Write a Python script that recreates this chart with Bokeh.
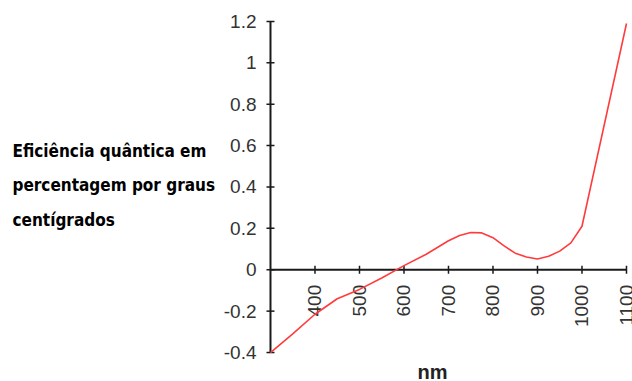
import numpy as np
from bokeh.plotting import figure
from bokeh.models import Range1d, Label
from bokeh.core.properties import value
from bokeh.embed import file_html
from bokeh.resources import INLINE

# data
wavelength_nm = [300, 350, 400, 450, 500, 550, 600, 650, 700, 725, 750, 775, 800, 825,
                 850, 875, 900, 925, 950, 975, 1000, 1100]
efficiency = [-0.40, -0.31, -0.215, -0.14, -0.095, -0.04, 0.02, 0.075, 0.14, 0.165, 0.18,
              0.178, 0.155, 0.115, 0.08, 0.062, 0.052, 0.065, 0.09, 0.13, 0.21, 1.19]

x_origin = 300
x_ticks = [400, 500, 600, 700, 800, 900, 1000, 1100]
x_tick_labels = ["400", "500", "600", "700", "800", "900", "1000", "1100"]
y_ticks = [-0.4, -0.2, 0, 0.2, 0.4, 0.6, 0.8, 1, 1.2]
y_tick_labels = ["-0.4", "-0.2", "0", "0.2", "0.4", "0.6", "0.8", "1", "1.2"]

y_title_lines = ["Eficiência quântica em", "percentagem por graus", "centígrados"]
x_title = "nm"

AXIS = "#1a1a1a"
TXT = "#333333"
FONT = "Liberation Sans"

# the frame fills the whole canvas; axes are drawn by hand so that nothing is clipped
p = figure(width=632, height=381, output_backend="svg", toolbar_location=None,
           x_range=Range1d(-306.7, 1113.5), y_range=Range1d(-0.540, 1.301),
           x_axis_location=None, y_axis_location=None,
           min_border=0, min_border_left=0, min_border_right=0,
           min_border_top=0, min_border_bottom=0)
p.grid.visible = False
p.outline_line_color = None
p.background_fill_color = "white"
p.border_fill_color = "white"

# vertical axis
p.segment(x0=[x_origin], y0=[min(y_ticks)], x1=[x_origin], y1=[max(y_ticks)],
          line_color=AXIS, line_width=2)
p.scatter(x=[x_origin] * len(y_ticks), y=y_ticks, marker="dash", size=8,
          line_color=AXIS, line_width=1.5)
p.text(x=[x_origin] * len(y_ticks), y=y_ticks, text=y_tick_labels,
       text_align="right", text_baseline="middle", x_offset=-14,
       text_font=value(FONT), text_font_size="19px", text_color=TXT)

# horizontal axis crossing at zero
p.segment(x0=[x_origin], y0=[0], x1=[max(x_ticks)], y1=[0],
          line_color=AXIS, line_width=2)
p.scatter(x=x_ticks, y=[0] * len(x_ticks), marker="dash", angle=np.pi / 2, size=8,
          line_color=AXIS, line_width=1.5)
p.text(x=x_ticks, y=[0] * len(x_ticks), text=x_tick_labels, angle=np.pi / 2,
       text_align="right", text_baseline="middle", y_offset=15,
       text_font=value(FONT), text_font_size="19px", text_color=TXT)

p.line(wavelength_nm, efficiency, line_color="#ff3c3c", line_width=1.6)

for i, line in enumerate(y_title_lines):
    p.add_layout(Label(x=12, y=231 - i * 34.5, x_units="screen", y_units="screen",
                       text=line, text_font="DejaVu Sans Condensed",
                       text_font_style="bold", text_font_size="17px",
                       text_color="black", text_baseline="alphabetic"))

p.add_layout(Label(x=432, y=10, x_units="screen", y_units="screen", text=x_title,
                   text_font=FONT, text_font_style="bold", text_font_size="20px",
                   text_color="#222222", text_align="center", text_baseline="alphabetic"))

open("out.html", "w").write(file_html(p, INLINE))
